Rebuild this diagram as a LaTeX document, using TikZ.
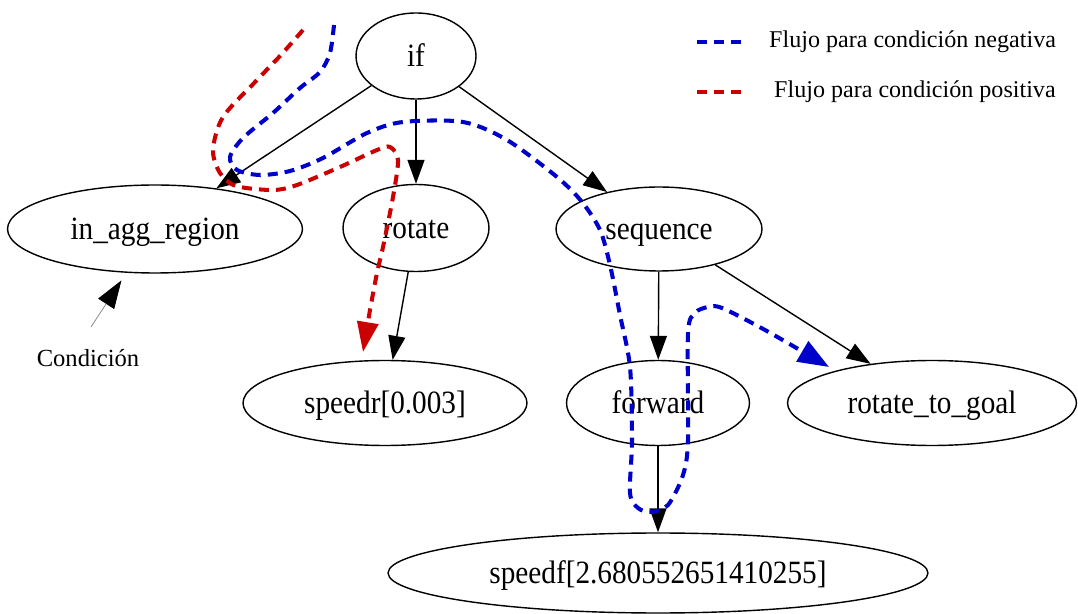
\documentclass[tikz,border=0pt]{standalone}
\usepackage{fontspec}
\setmainfont{Liberation Serif}
\newfontfamily\treefont{Liberation Serif}[FakeStretch=0.9]
\usetikzlibrary{shapes.geometric,arrows.meta}
\definecolor{negblue}{RGB}{0,0,204}
\definecolor{posred}{RGB}{204,0,0}

\begin{document}
\begin{tikzpicture}[x=0.02cm,y=-0.02cm,
    bt/.style={ellipse,draw,line width=0.8pt,inner sep=0pt,text height=13pt,text depth=0.6pt,font=\treefont\fontsize{18.5}{22}\selectfont},
    link/.style={-{Triangle[length=0.48cm,width=0.34cm]},line width=0.8pt},
    legend/.style={anchor=west,font=\fontsize{13.7}{16}\selectfont},
    negflow/.style={negblue,line width=2.3pt,dash pattern=on 5.7pt off 4pt},
    posflow/.style={posred,line width=2.3pt,dash pattern=on 5.7pt off 4pt}]
    \useasboundingbox (0,0) rectangle (1078,614);
    % behaviour tree
    \node[bt,minimum width=2.4cm,minimum height=1.72cm] (if) at (416,56) {if};
    \node[bt,minimum width=5.9cm,minimum height=1.76cm] (agg) at (155,229) {in\_agg\_region};
    \node[bt,minimum width=2.92cm,minimum height=1.74cm] (rot) at (416,228) {rotate};
    \node[bt,minimum width=4.12cm,minimum height=1.68cm] (seq) at (659,229) {sequence};
    \node[bt,minimum width=5.68cm,minimum height=1.7cm] (spr) at (385,403) {speedr[0.003]};
    \node[bt,minimum width=3.66cm,minimum height=1.7cm] (fwd) at (658,403) {forward};
    \node[bt,minimum width=5.78cm,minimum height=1.7cm] (rtg) at (932,403) {rotate\_to\_goal};
    \node[bt,minimum width=10.8cm,minimum height=1.6cm] (spf) at (658,573) {speedf[2.680552651410255]};
    \draw[link] (if) -- (agg);
    \draw[link] (if) -- (rot);
    \draw[link] (if) -- (seq);
    \draw[link] (rot) -- (spr);
    \draw[link] (seq) -- (fwd);
    \draw[link] (seq) -- (rtg);
    \draw[link] (fwd) -- (spf);
    % condition label
    \node[font=\fontsize{14}{16}\selectfont] (cond) at (88,358) {Condición};
    \coordinate (condtail) at (91,327);
    \draw[gray,line width=0.4pt,-{Triangle[length=0.56cm,width=0.38cm,black]},shorten >=0.18cm] (condtail) -- (agg);
    % flows
    \draw[posflow,-{Triangle[length=0.6cm,width=0.42cm]}] plot[smooth,tension=0.5] coordinates {
      (303,30) (280,56) (257,80) (223,117) (213,150) (220,173) (236,186) (273,190)
      (297,185) (340,167) (377,150) (390,147) (398,160) (393,197) (383,247)
      (377,273) (370,310) (363,352)};
    \draw[negflow,-{Triangle[length=0.62cm,width=0.46cm]}] plot[smooth,tension=0.5] coordinates {
      (334,25) (330,53) (320,72) (300,88) (273,113) (243,138) (230,157) (237,170)
      (260,175) (290,171) (323,158) (367,133) (403,122) (463,122) (507,140)
      (557,177) (582,202) (600,230) (610,265) (620,315) (630,367) (632,440)
      (630,493) (638,508) (651,512) (668,505) (683,475) (688,440) (688,333)
      (695,313) (708,307) (722,308) (765,330) (829,367)};
    % legend
    \coordinate (negA) at (697,42);
    \coordinate (negB) at (741,42);
    \coordinate (posA) at (697,92);
    \coordinate (posB) at (741,92);
    \draw[negflow] (negA) -- (negB);
    \draw[posflow] (posA) -- (posB);
    \node[legend] (negtxt) at (763,42) {Flujo para condición negativa};
    \node[legend] (postxt) at (768,92) {Flujo para condición positiva};
\end{tikzpicture}
\end{document}
